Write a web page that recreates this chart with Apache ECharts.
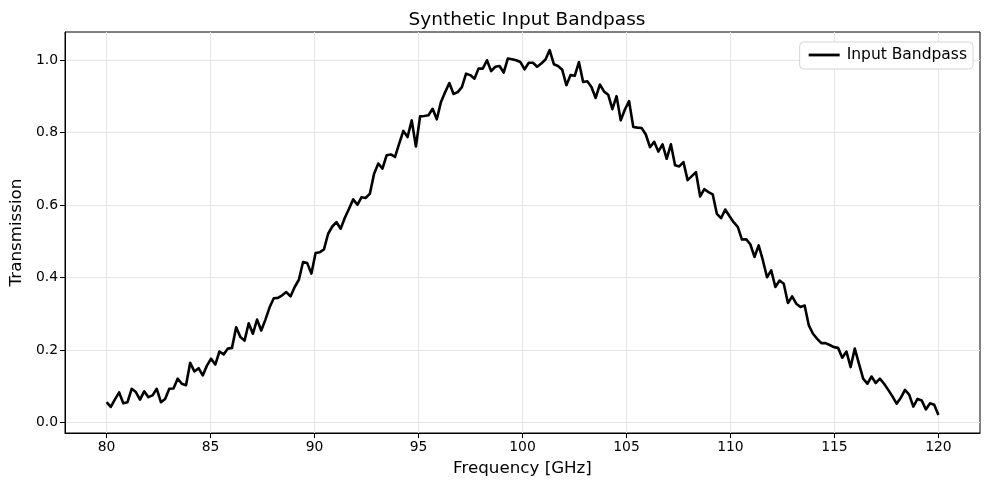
<!DOCTYPE html>
<html>
<head>
<meta charset="utf-8">
<title>Synthetic Input Bandpass</title>
<script src="https://cdn.jsdelivr.net/npm/echarts@6/dist/echarts.min.js"></script>
<style>
  html, body { margin: 0; padding: 0; background: #fff; }
  #chart { width: 989px; height: 489px; }
</style>
</head>
<body>
<div id="chart"></div>
<script>
// transmission, 200 samples from 80 to 120 GHz
var transmission = [
  0.056, 0.043, 0.064, 0.083, 0.053, 0.056, 0.093, 0.084, 0.063, 0.086,
  0.070, 0.075, 0.093, 0.056, 0.065, 0.093, 0.094, 0.121, 0.107, 0.103,
  0.165, 0.141, 0.150, 0.130, 0.157, 0.176, 0.160, 0.196, 0.188, 0.204,
  0.206, 0.263, 0.236, 0.226, 0.274, 0.245, 0.284, 0.254, 0.284, 0.318,
  0.343, 0.344, 0.351, 0.360, 0.348, 0.374, 0.394, 0.443, 0.440, 0.411,
  0.468, 0.470, 0.478, 0.521, 0.541, 0.553, 0.535, 0.565, 0.590, 0.616,
  0.601, 0.622, 0.620, 0.632, 0.687, 0.715, 0.701, 0.738, 0.740, 0.733,
  0.770, 0.805, 0.788, 0.834, 0.762, 0.845, 0.846, 0.848, 0.866, 0.837,
  0.885, 0.912, 0.937, 0.907, 0.912, 0.926, 0.963, 0.959, 0.949, 0.977,
  0.977, 1.000, 0.970, 0.982, 0.984, 0.966, 1.005, 1.003, 1.000, 0.995,
  0.975, 0.993, 0.993, 0.982, 0.991, 1.002, 1.028, 0.989, 0.984, 0.974,
  0.931, 0.959, 0.957, 0.995, 0.940, 0.942, 0.926, 0.896, 0.933, 0.914,
  0.905, 0.865, 0.901, 0.834, 0.864, 0.887, 0.816, 0.814, 0.813, 0.795,
  0.760, 0.775, 0.748, 0.768, 0.728, 0.768, 0.710, 0.707, 0.719, 0.669,
  0.680, 0.691, 0.624, 0.644, 0.636, 0.630, 0.576, 0.564, 0.588, 0.570,
  0.553, 0.540, 0.505, 0.506, 0.492, 0.457, 0.489, 0.448, 0.401, 0.420,
  0.374, 0.392, 0.383, 0.330, 0.348, 0.328, 0.319, 0.323, 0.268, 0.245,
  0.231, 0.219, 0.219, 0.214, 0.208, 0.206, 0.179, 0.196, 0.153, 0.204,
  0.162, 0.121, 0.107, 0.127, 0.109, 0.121, 0.107, 0.090, 0.072, 0.052,
  0.068, 0.090, 0.077, 0.044, 0.065, 0.061, 0.036, 0.053, 0.049, 0.021
];
var freqStart = 80;
var freqEnd = 120;
var xTicks = [80, 85, 90, 95, 100, 105, 110, 115, 120];
var yTicks = [0.0, 0.2, 0.4, 0.6, 0.8, 1.0];

// frequency grid (evenly spaced, like linspace)
var points = [];
for (var i = 0; i < transmission.length; i++) {
  var f = freqStart + i * (freqEnd - freqStart) / (transmission.length - 1);
  points.push([f, transmission[i]]);
}

var font = 'DejaVu Sans';
var chart = echarts.init(document.getElementById('chart'), null, { renderer: 'canvas' });

var option = {
  animation: false,
  backgroundColor: '#ffffff',
  textStyle: { fontFamily: font },
  title: {
    text: 'Synthetic Input Bandpass',
    left: 522,
    textAlign: 'center',
    top: 6,
    textStyle: { fontFamily: font, fontSize: 18.5, fontWeight: 'normal', color: '#000' }
  },
  legend: {
    data: [{ name: 'Input Bandpass', icon: 'rect' }],
    right: 16,
    top: 42,
    padding: [5, 6, 6, 9],
    itemWidth: 31,
    itemHeight: 2.8,
    itemGap: 8,
    borderColor: '#d4d4d4',
    borderWidth: 1,
    borderRadius: 4,
    backgroundColor: '#ffffff',
    textStyle: { fontFamily: font, fontSize: 15.5, color: '#000', padding: [0, 0, 0, 2] }
  },
  grid: {
    left: 65,
    top: 32,
    width: 915,
    height: 401,
    show: true,
    borderColor: '#000',
    borderWidth: 1,
    backgroundColor: 'transparent'
  },
  xAxis: {
    type: 'value',
    min: 78,
    max: 122,
    name: 'Frequency [GHz]',
    nameLocation: 'middle',
    nameGap: 27,
    nameTextStyle: { fontFamily: font, fontSize: 16.7, color: '#000' },
    axisLine: { show: true, onZero: false, lineStyle: { color: '#000', width: 1 } },
    axisTick: { show: true, length: 5, customValues: xTicks, lineStyle: { color: '#000', width: 1 } },
    axisLabel: { customValues: xTicks, margin: 7, fontFamily: font, fontSize: 13.9, color: '#000' },
    splitLine: { show: true, lineStyle: { color: '#e6e6e6', width: 1 } }
  },
  yAxis: {
    type: 'value',
    min: -0.029,
    max: 1.078,
    name: 'Transmission',
    nameLocation: 'middle',
    nameGap: 36,
    nameTextStyle: { fontFamily: font, fontSize: 16.7, color: '#000' },
    axisLine: { show: true, onZero: false, lineStyle: { color: '#000', width: 1 } },
    axisTick: { show: true, length: 5, customValues: yTicks, lineStyle: { color: '#000', width: 1 } },
    axisLabel: {
      customValues: yTicks,
      margin: 7,
      fontFamily: font,
      fontSize: 13.9,
      color: '#000',
      formatter: function (v) { return v.toFixed(1); }
    },
    splitLine: { show: true, lineStyle: { color: '#e6e6e6', width: 1 } }
  },
  series: [
    {
      name: 'Input Bandpass',
      type: 'line',
      data: points,
      showSymbol: false,
      symbol: 'none',
      lineStyle: { color: '#000', width: 2.6, join: 'round' },
      itemStyle: { color: '#000' }
    }
  ]
};

chart.setOption(option);
</script>
</body>
</html>
